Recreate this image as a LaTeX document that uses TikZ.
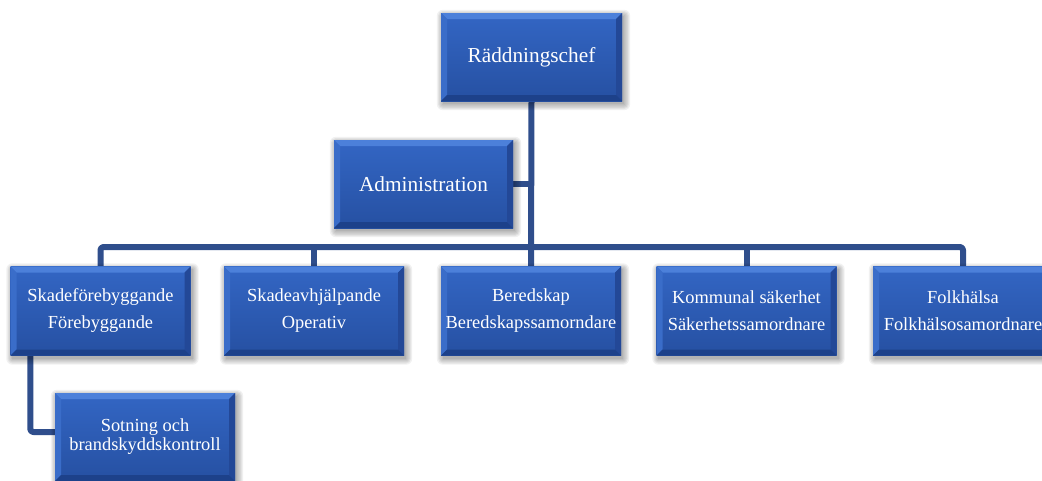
\documentclass[tikz,border=0pt]{standalone}
\usepackage{fontspec}
\setmainfont{Liberation Serif}
\definecolor{linec}{HTML}{2F4E8C}
\definecolor{boxtop}{HTML}{3366C4}
\definecolor{boxbot}{HTML}{2650A2}
\definecolor{bevlight}{HTML}{4C80DA}
\definecolor{bevside}{HTML}{3A6DC9}
\definecolor{bevdark}{HTML}{1D418A}
\definecolor{bevright}{HTML}{234897}
\pgfdeclarelayer{back}
\pgfdeclarelayer{lines}
\pgfdeclarelayer{shade}
\pgfsetlayers{back,lines,shade,main}
\tikzset{
  orgbox/.style={rectangle, minimum width=180pt, minimum height=88pt, inner sep=0pt,
    text=white, align=center, font=\fontsize{18.4}{27}\selectfont,
    top color=boxtop, bottom color=boxbot,
    path picture={
      \fill[bevlight] (path picture bounding box.north west) -- (path picture bounding box.north east)
        -- ([shift={(-6pt,-6pt)}]path picture bounding box.north east)
        -- ([shift={(6pt,-6pt)}]path picture bounding box.north west) -- cycle;
      \fill[bevside] (path picture bounding box.north west) -- ([shift={(6pt,-6pt)}]path picture bounding box.north west)
        -- ([shift={(6pt,6pt)}]path picture bounding box.south west)
        -- (path picture bounding box.south west) -- cycle;
      \fill[bevright] (path picture bounding box.north east) -- ([shift={(-6pt,-6pt)}]path picture bounding box.north east)
        -- ([shift={(-6pt,6pt)}]path picture bounding box.south east)
        -- (path picture bounding box.south east) -- cycle;
      \fill[bevdark] (path picture bounding box.south west) -- (path picture bounding box.south east)
        -- ([shift={(-6pt,6pt)}]path picture bounding box.south east)
        -- ([shift={(6pt,6pt)}]path picture bounding box.south west) -- cycle;
    }},
  conn/.style={line width=6pt, draw=linec, line join=round},
  shadowlayer/.style={fill=black, opacity=0.055}
}
\begin{document}
\begin{tikzpicture}[x=1pt,y=-1pt]
\useasboundingbox (0,0) rectangle (1042,480);
\begin{pgfonlayer}{back}
\fill[white] (0,0) rectangle (1042,480);
\end{pgfonlayer}
\node[orgbox, minimum width=181pt, font=\fontsize{21.3}{25}\selectfont] (top) at (531.5,57) {Räddningschef};
\node[orgbox, minimum width=179pt, font=\fontsize{21.3}{25}\selectfont] (admin) at (423.5,184) {Administration};
\node[orgbox, minimum height=89pt] (b1) at (100.5,311) {Skadeförebyggande\\Förebyggande};
\node[orgbox, minimum height=89pt] (b2) at (314,311) {Skadeavhjälpande\\Operativ};
\node[orgbox, minimum height=89pt] (b3) at (531,311) {Beredskap\\Beredskapssamorndare};
\node[orgbox, minimum height=89pt] (b4) at (746.5,311) {Kommunal säkerhet\\Säkerhetssamordnare};
\node[orgbox, minimum height=89pt] (b5) at (963,311) {Folkhälsa\\Folkhälsosamordnare};
\node[orgbox, font=\fontsize{18.4}{19}\selectfont] (sub) at (145,437) {Sotning och\\brandskyddskontroll};
\coordinate (bus) at (531,247);
\begin{pgfonlayer}{shade}
\foreach \n in {top,admin,b1,b2,b3,b4,b5,sub}{
  \foreach \s in {0,1.2,2.4,3.6,4.8,6}{
    \fill[shadowlayer, rounded corners=\s pt]
      ([shift={(2pt-\s pt,-3pt+\s pt)}]\n.north west) rectangle ([shift={(2pt+\s pt,-3pt-\s pt)}]\n.south east);
  }
}
\end{pgfonlayer}
\begin{pgfonlayer}{lines}
\draw[conn] (top.south) -- (b3.north);
\draw[conn] (admin.east) -- (admin.east -| top.south);
\draw[conn, rounded corners=3pt] (b1.north) -- (b1.north |- bus) -- (b5.north |- bus) -- (b5.north);
\draw[conn] (b2.north) -- (b2.north |- bus);
\draw[conn] (b4.north) -- (b4.north |- bus);
\draw[conn, rounded corners=3pt] ([xshift=20pt]b1.south west) |- ([yshift=5pt]sub.west);
\end{pgfonlayer}
\end{tikzpicture}
\end{document}
